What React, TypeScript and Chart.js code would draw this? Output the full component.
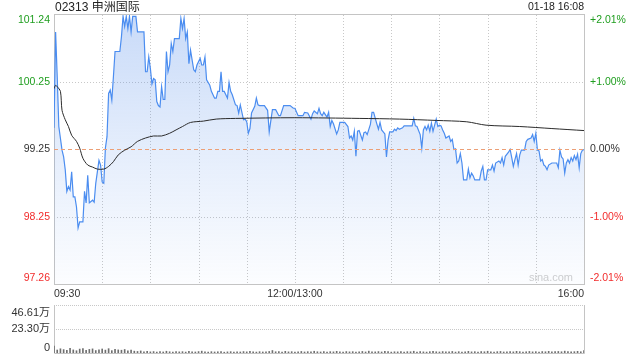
import React, { useEffect, useRef } from 'react';
import { Chart, registerables } from 'chart.js';

Chart.register(...registerables);

const FONT = '"Liberation Sans", Arial, "Noto Sans CJK SC", sans-serif';

// ---- data ----
const titleText = '02313 申洲国际';
const dateText = '01-18 16:08';
const prevClose = 99.25;
const priceMin = 97.26;
const priceMax = 101.24;
const priceTicks = [101.24, 100.25, 99.25, 98.25, 97.26];
const pctTicks = ['+2.01%', '+1.00%', '0.00%', '-1.00%', '-2.01%'];
const timeLabels = ['09:30', '12:00/13:00', '16:00'];
const timeLabelMinutes = [0, 150, 330];
const gridMinutes = [30, 60, 90, 120, 150, 180, 210, 240, 270, 300];
const volTicks = [46.61, 23.3, 0];
const volTickLabels = ['46.61万', '23.30万', '0'];

// minutes after 09:30 (lunch break removed), price
const pricePoints: [number, number][] = [
  [0, 99.57], [1, 100.99], [2, 100.33], [3, 99.59], [5, 99.24], [6, 99.14], [7, 98.95], [8, 98.63], [9, 98.7], [10, 98.65],
  [11, 98.92], [12, 98.55], [13, 98.55], [14, 98.4], [15, 98.09], [16, 98.18], [18, 98.18], [19, 98.63], [20, 98.46], [21, 98.87],
  [22, 98.46], [24, 98.5], [25, 98.47], [26, 98.75], [28, 99.09], [29, 99.02], [30, 98.77], [31, 98.75], [32, 99.27], [33, 99.44],
  [34, 100.08], [35, 100.13], [36, 99.98], [37, 100.33], [38, 100.7], [41, 100.7], [42, 100.92], [43, 101.22], [44, 101.07], [45, 101.22],
  [46, 101.04], [47, 101.22], [48, 100.99], [49, 101.22], [51, 101.22], [52, 100.99], [56, 100.99], [57, 100.4], [58, 100.4], [59, 100.62],
  [60, 100.45], [61, 100.22], [62, 100.3], [63, 100.28], [64, 99.96], [65, 99.9], [66, 99.88], [67, 100.18], [68, 99.99], [69, 99.99],
  [70, 100.7], [71, 100.4], [72, 100.5], [73, 100.82], [74, 100.7], [75, 100.89], [78, 100.89], [79, 101.19], [80, 101.04], [81, 101.19],
  [82, 100.89], [83, 100.99], [84, 100.52], [85, 100.72], [87, 100.43], [88, 100.4], [89, 100.5], [91, 100.6], [92, 100.5], [93, 100.5],
  [94, 100.62], [95, 100.28], [97, 100.2], [98, 100.11], [100, 100.01], [101, 100.01], [102, 100.11], [103, 100.11], [104, 100.4], [105, 100.11],
  [106, 100.11], [108, 100.01], [109, 100.24], [110, 100.11], [111, 100.06], [113, 99.91], [114, 99.9], [115, 99.79], [116, 99.91], [118, 99.69],
  [119, 99.7], [120, 99.66], [121, 99.49], [122, 99.56], [123, 99.79], [125, 99.89], [126, 100.01], [127, 99.91], [128, 99.9], [131, 99.9],
  [133, 99.83], [134, 99.51], [136, 99.84], [138, 99.84], [140, 99.75], [141, 99.75], [143, 99.9], [147, 99.9], [149, 99.86], [150, 99.86],
  [152, 99.75], [155, 99.75], [156, 99.8], [158, 99.79], [160, 99.7], [161, 99.78], [162, 99.82], [164, 99.78], [165, 99.86], [166, 99.78],
  [167, 99.75], [168, 99.8], [170, 99.73], [171, 99.8], [172, 99.59], [173, 99.68], [174, 99.63], [176, 99.48], [177, 99.54], [178, 99.65],
  [181, 99.65], [183, 99.59], [184, 99.42], [185, 99.45], [186, 99.39], [187, 99.52], [188, 99.15], [189, 99.52], [190, 99.53], [192, 99.39],
  [193, 99.5], [194, 99.51], [195, 99.47], [197, 99.62], [198, 99.8], [199, 99.8], [201, 99.63], [202, 99.55], [203, 99.65], [204, 99.54],
  [206, 99.48], [207, 99.14], [208, 99.39], [209, 99.51], [211, 99.51], [212, 99.55], [213, 99.53], [214, 99.57], [215, 99.55], [217, 99.57],
  [218, 99.6], [223, 99.6], [224, 99.71], [225, 99.6], [226, 99.59], [228, 99.47], [229, 99.27], [230, 99.54], [231, 99.59], [232, 99.54],
  [233, 99.61], [234, 99.52], [235, 99.64], [236, 99.52], [237, 99.61], [238, 99.7], [239, 99.59], [240, 99.61], [241, 99.6], [242, 99.54],
  [243, 99.49], [244, 99.42], [246, 99.45], [247, 99.37], [248, 99.4], [249, 99.25], [250, 99.26], [251, 99.05], [252, 99.08], [253, 99.19],
  [254, 99.05], [255, 98.8], [257, 98.8], [258, 98.96], [259, 98.83], [260, 98.9], [261, 98.86], [262, 98.8], [265, 98.8], [266, 98.93],
  [267, 99.0], [268, 98.8], [269, 98.8], [270, 98.95], [272, 98.95], [273, 99.02], [274, 98.93], [275, 99.05], [277, 99.08], [278, 99.05],
  [279, 99.13], [280, 99.02], [281, 99.15], [283, 99.21], [284, 99.25], [285, 99.13], [286, 99.0], [287, 99.1], [288, 99.19], [289, 99.02],
  [290, 99.17], [291, 99.24], [293, 99.24], [294, 99.37], [295, 99.4], [297, 99.42], [298, 99.47], [299, 99.37], [300, 99.49], [301, 99.24],
  [302, 99.23], [303, 99.08], [304, 99.1], [305, 99.02], [306, 99.0], [307, 98.95], [308, 99.02], [310, 99.05], [313, 99.05], [314, 98.98],
  [315, 99.24], [316, 99.14], [317, 99.11], [318, 98.9], [319, 99.05], [320, 99.1], [321, 99.05], [322, 99.13], [323, 99.08], [324, 99.16],
  [325, 99.1], [326, 99.18], [327, 98.98], [328, 99.19], [329, 99.24], [330, 99.25],
];

// average price line
const avgPoints: [number, number][] = [
  [0, 100.15], [1, 100.2], [2, 100.18], [4, 100.11], [5, 99.83], [7, 99.69], [9, 99.59], [11, 99.46], [14, 99.37], [16, 99.27],
  [18, 99.12], [21, 99.02], [24, 98.99], [27, 98.96], [31, 98.96], [34, 99.0], [37, 99.07], [40, 99.17], [44, 99.24], [48, 99.29],
  [52, 99.37], [57, 99.42], [62, 99.45], [67, 99.45], [72, 99.49], [76, 99.54], [80, 99.59], [85, 99.65], [93, 99.67], [101, 99.7],
  [113, 99.71], [150, 99.72], [190, 99.71], [215, 99.7], [238, 99.68], [257, 99.66], [269, 99.61], [290, 99.59], [310, 99.56], [330, 99.53],
];

// volume in 万 shares, one bar per 2 minutes
const volumeStepMinutes = 2;
const volumes = [
  6.8, 2.9, 4.1, 3.3, 2.5, 4.6, 3.0, 2.2, 3.8, 4.4,
  2.6, 3.5, 4.0, 2.4, 3.1, 3.9, 2.8, 4.2, 2.3, 3.6,
  3.0, 2.7, 3.4, 2.1, 2.9, 1.8, 1.5, 2.0, 1.2, 1.6,
  1.1, 1.4, 0.9, 1.3, 1.0, 1.7, 1.2, 0.8, 1.5, 1.1,
  1.3, 0.9, 1.6, 1.2, 1.0, 1.4, 1.8, 1.1, 0.9, 1.3,
  1.0, 1.2, 1.5, 0.8, 1.1, 1.3, 0.9, 1.2, 1.0, 1.4,
  1.1, 1.6, 1.2, 0.9, 1.3, 1.0, 1.1, 1.5, 2.4, 1.2,
  1.4, 1.0, 1.6, 1.1, 1.3, 0.9, 1.2, 1.5, 1.0, 1.3,
  1.1, 1.7, 1.2, 1.0, 1.4, 0.9, 1.3, 1.1, 1.6, 1.2,
  1.0, 1.4, 1.1, 1.3, 0.9, 1.2, 1.5, 1.0, 1.8, 1.2,
  1.1, 1.4, 1.0, 1.6, 1.3, 0.9, 1.2, 1.1, 1.5, 1.0,
  1.3, 1.2, 1.7, 1.0, 1.4, 1.1, 0.9, 1.3, 1.6, 1.2,
  1.0, 1.4, 1.2, 1.1, 1.5, 0.9, 1.3, 1.0, 1.2, 1.6,
  1.1, 1.3, 1.0, 1.4, 1.2, 1.7, 1.1, 0.9, 1.3, 1.5,
  1.0, 1.2, 1.4, 1.1, 1.6, 1.3, 1.0, 1.2, 1.5, 1.1,
  1.3, 1.0, 1.4, 1.2, 1.6, 1.1, 1.3, 1.5, 1.2, 1.8,
  1.4, 1.1, 1.3, 1.6, 1.2, 2.3,
];

const GREEN = '#1f9e1f';
const RED = '#f22c2c';
const DARK = '#333333';
const GRID = '#c8c8c8';
const BORDER = '#c4c4c4';

function tickColor(v: number) {
  if (v > prevClose) return GREEN;
  if (v < prevClose) return RED;
  return DARK;
}

const mainDecor = {
  id: 'mainDecor',
  beforeDatasetsDraw(chart: any) {
    const { ctx, chartArea: a, scales } = chart;
    const x = scales.x;
    const y = scales.y;
    ctx.save();
    ctx.lineWidth = 1;
    ctx.strokeStyle = GRID;
    ctx.setLineDash([1, 2]);
    for (const m of gridMinutes) {
      const px = Math.round(x.getPixelForValue(m)) + 0.5;
      ctx.beginPath();
      ctx.moveTo(px, a.top);
      ctx.lineTo(px, a.bottom);
      ctx.stroke();
    }
    for (const v of priceTicks) {
      if (v === prevClose || v === priceMin || v === priceMax) continue;
      const py = Math.round(y.getPixelForValue(v)) + 0.5;
      ctx.beginPath();
      ctx.moveTo(a.left, py);
      ctx.lineTo(a.right, py);
      ctx.stroke();
    }
    ctx.setLineDash([]);
    ctx.strokeStyle = BORDER;
    const l = Math.round(a.left) + 0.5;
    const r = Math.round(a.right) + 0.5;
    const t = Math.round(a.top) - 0.5;
    const b = Math.round(a.bottom) + 0.5;
    ctx.strokeRect(l, t, r - l, b - t);
    // watermark
    ctx.fillStyle = '#cfcfcf';
    ctx.font = `11px ${FONT}`;
    ctx.textAlign = 'right';
    ctx.textBaseline = 'middle';
    ctx.fillText('sina.com', a.right - 11, a.bottom - 6);
    ctx.restore();
  },
  afterDraw(chart: any) {
    const { ctx, chartArea: a, scales } = chart;
    const x = scales.x;
    const y = scales.y;
    ctx.save();
    ctx.font = `10.5px ${FONT}`;
    ctx.textBaseline = 'middle';
    priceTicks.forEach((v, i) => {
      let py = y.getPixelForValue(v);
      py = Math.min(Math.max(py, a.top + 5), a.bottom - 6);
      ctx.fillStyle = tickColor(v);
      ctx.textAlign = 'right';
      ctx.fillText(v.toFixed(2), a.left - 4, py);
      ctx.textAlign = 'left';
      ctx.fillText(pctTicks[i], a.right + 6, py);
    });
    ctx.fillStyle = DARK;
    timeLabels.forEach((s, i) => {
      const px = x.getPixelForValue(timeLabelMinutes[i]);
      ctx.textAlign = i === 0 ? 'left' : i === timeLabels.length - 1 ? 'right' : 'center';
      ctx.fillText(s, px, a.bottom + 10);
    });
    ctx.font = `12px ${FONT}`;
    ctx.textAlign = 'left';
    ctx.fillStyle = '#222';
    ctx.fillText(titleText, a.left + 1, 7.5);
    ctx.font = `10.5px ${FONT}`;
    ctx.textAlign = 'right';
    ctx.fillText(dateText, a.right, 7.5);
    ctx.restore();
  },
};

const volDecor = {
  id: 'volDecor',
  beforeDatasetsDraw(chart: any) {
    const { ctx, chartArea: a, scales } = chart;
    const y = scales.y;
    ctx.save();
    ctx.lineWidth = 1;
    ctx.strokeStyle = GRID;
    ctx.setLineDash([1, 1]);
    for (const v of volTicks) {
      if (v === 0) continue;
      const py = Math.round(y.getPixelForValue(v)) + 0.5;
      ctx.beginPath();
      ctx.moveTo(a.left, py);
      ctx.lineTo(a.right, py);
      ctx.stroke();
    }
    ctx.setLineDash([]);
    ctx.strokeStyle = BORDER;
    const l = Math.round(a.left) + 0.5;
    const r = Math.round(a.right) + 0.5;
    const b = Math.round(a.bottom) + 0.5;
    ctx.beginPath();
    ctx.moveTo(l, a.top);
    ctx.lineTo(l, b);
    ctx.lineTo(r, b);
    ctx.lineTo(r, a.top);
    ctx.stroke();
    ctx.restore();
  },
  afterDraw(chart: any) {
    const { ctx, chartArea: a, scales } = chart;
    const y = scales.y;
    ctx.save();
    ctx.font = `11px ${FONT}`;
    ctx.textBaseline = 'middle';
    ctx.textAlign = 'right';
    ctx.fillStyle = DARK;
    volTicks.forEach((v, i) => {
      let py = y.getPixelForValue(v);
      py = Math.min(Math.max(py, a.top + 8), a.bottom - 5);
      ctx.fillText(volTickLabels[i], a.left - 4, py);
    });
    ctx.restore();
  },
};

export default function App() {
  const mainRef = useRef<HTMLCanvasElement>(null);
  const volRef = useRef<HTMLCanvasElement>(null);

  useEffect(() => {
    const main = new Chart(mainRef.current as HTMLCanvasElement, {
      type: 'line',
      data: {
        datasets: [
          {
            label: 'avg',
            data: avgPoints.map(([m, v]) => ({ x: m, y: v })),
            borderColor: '#2b2b2b',
            borderWidth: 1,
            pointRadius: 0,
            fill: false,
            tension: 0.3,
          },
          {
            label: 'prev',
            data: [
              { x: 0, y: prevClose },
              { x: 330, y: prevClose },
            ],
            borderColor: '#ec9f76',
            borderWidth: 1,
            borderDash: [4, 3],
            pointRadius: 0,
            fill: false,
          },
          {
            label: 'price',
            data: pricePoints.map(([m, v]) => ({ x: m, y: v })),
            borderColor: '#4b8df0',
            borderWidth: 1.2,
            pointRadius: 0,
            tension: 0,
            fill: 'start',
            backgroundColor: (c: any) => {
              const chart = c.chart;
              const a = chart.chartArea;
              if (!a) return 'rgba(90,145,235,0.2)';
              const g = chart.ctx.createLinearGradient(0, a.top, 0, a.bottom);
              g.addColorStop(0, 'rgba(90,145,235,0.33)');
              g.addColorStop(0.5, 'rgba(90,145,235,0.16)');
              g.addColorStop(1, 'rgba(90,145,235,0.02)');
              return g;
            },
          },
        ],
      },
      options: {
        responsive: false,
        animation: false,
        events: [],
        layout: { padding: { left: 54, right: 56, top: 15, bottom: 16 } },
        plugins: { legend: { display: false }, tooltip: { enabled: false } },
        scales: {
          x: { type: 'linear', min: 0, max: 330, display: false },
          y: { type: 'linear', min: priceMin, max: priceMax, display: false },
        },
      },
      plugins: [mainDecor],
    } as any);

    const vol = new Chart(volRef.current as HTMLCanvasElement, {
      type: 'bar',
      data: {
        datasets: [
          {
            label: 'vol',
            data: volumes.map((v, i) => ({ x: i * volumeStepMinutes, y: v })),
            backgroundColor: '#6f6f6f',
            barThickness: 1,
            borderWidth: 0,
          },
        ],
      },
      options: {
        responsive: false,
        animation: false,
        events: [],
        layout: { padding: { left: 54, right: 56, top: 5, bottom: 7 } },
        plugins: { legend: { display: false }, tooltip: { enabled: false } },
        scales: {
          x: { type: 'linear', min: 0, max: 330, display: false, offset: false },
          y: { type: 'linear', min: 0, max: volTicks[0], display: false },
        },
      },
      plugins: [volDecor],
    } as any);

    return () => {
      main.destroy();
      vol.destroy();
    };
  }, []);

  return (
    <div style={{ position: 'absolute', left: 0, top: 0, width: 640, height: 360, background: '#fff' }}>
      <canvas ref={mainRef} width={640} height={300} style={{ position: 'absolute', left: 0, top: 0 }} />
      <canvas ref={volRef} width={640} height={60} style={{ position: 'absolute', left: 0, top: 300 }} />
    </div>
  );
}
